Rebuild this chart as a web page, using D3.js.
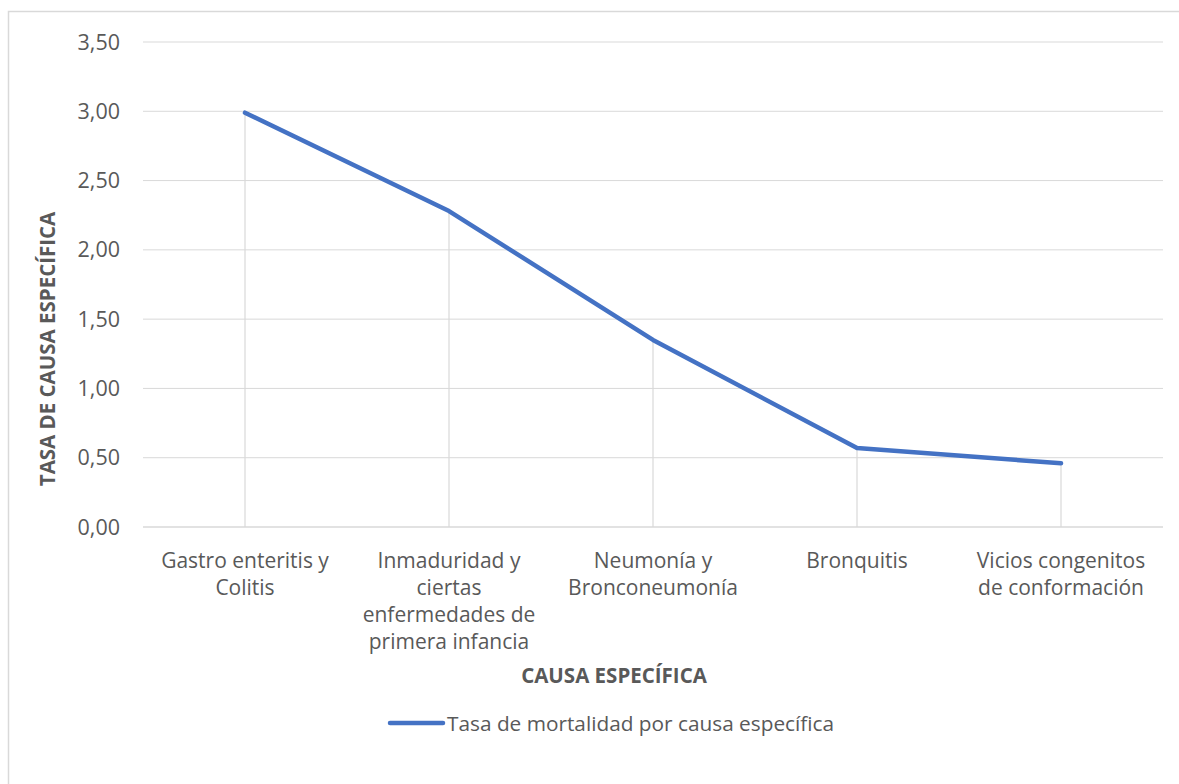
<!DOCTYPE html>
<html>
<head>
<meta charset="utf-8">
<script src="https://cdn.jsdelivr.net/npm/d3@7"></script>
<style>
  body { margin: 0; background: #fff; }
  svg text { font-family: "Open Sans", "Noto Sans", sans-serif; fill: #595959; }
</style>
</head>
<body>
<div id="chart"></div>
<script>
// Tasa de mortalidad por causa específica
const causas = [
    ["Gastro enteritis y", "Colitis"],
    ["Inmaduridad y", "ciertas", "enfermedades de", "primera infancia"],
    ["Neumonía y", "Bronconeumonía"],
    ["Bronquitis"],
    ["Vicios congenitos", "de conformación"]
];
const tasas = [2.99, 2.28, 1.35, 0.57, 0.46];
const yTicks = [0, 0.5, 1, 1.5, 2, 2.5, 3, 3.5];
const serieNombre = "Tasa de mortalidad por causa específica";

const W = 1179, H = 784;
const margin = {top: 42, right: 16, bottom: 257, left: 143};
const width = W - margin.left - margin.right;
const height = H - margin.top - margin.bottom;

const svg = d3.select("#chart").append("svg")
    .attr("width", W)
    .attr("height", H);

// chart area border (runs off the right and bottom of the picture)
svg.append("rect")
    .attr("x", 8.5).attr("y", 11.5)
    .attr("width", 1300).attr("height", 900)
    .attr("fill", "none")
    .attr("stroke", "#d9d9d9")
    .attr("stroke-width", 1.5);

const g = svg.append("g").attr("transform", `translate(${margin.left},${margin.top})`);

const x = d3.scaleBand()
    .domain(d3.range(causas.length))
    .range([0, width]);

const y = d3.scaleLinear()
    .domain([0, 3.5])
    .range([height, 0]);

const fmt = d => d.toFixed(2).replace(".", ",");

// gridlines
g.selectAll(".grid")
    .data(yTicks)
    .enter().append("line")
    .attr("x1", 0).attr("x2", width)
    .attr("y1", d => y(d)).attr("y2", d => y(d))
    .attr("stroke", "#d9d9d9")
    .attr("stroke-width", d => d === 0 ? 1.5 : 1);

// y labels
g.selectAll(".ylab")
    .data(yTicks)
    .enter().append("text")
    .attr("x", -23)
    .attr("y", d => y(d))
    .attr("dy", "0.35em")
    .attr("text-anchor", "end")
    .style("font-size", "21.5px")
    .text(fmt);

// drop lines
g.selectAll(".drop")
    .data(tasas)
    .enter().append("line")
    .attr("x1", (d, i) => x(i) + x.bandwidth() / 2)
    .attr("x2", (d, i) => x(i) + x.bandwidth() / 2)
    .attr("y1", d => y(d)).attr("y2", height)
    .attr("stroke", "#d9d9d9")
    .attr("stroke-width", 1.2);

// line
const line = d3.line()
    .x((d, i) => x(i) + x.bandwidth() / 2)
    .y(d => y(d));

g.append("path")
    .datum(tasas)
    .attr("d", line)
    .attr("fill", "none")
    .attr("stroke", "#4472c4")
    .attr("stroke-width", 4.5)
    .attr("stroke-linecap", "round")
    .attr("stroke-linejoin", "round");

// category labels, one text per line
const cat = g.selectAll(".cat")
    .data(causas)
    .enter().append("g")
    .attr("transform", (d, i) => `translate(${x(i) + x.bandwidth() / 2},${height + 41})`);

cat.selectAll("text")
    .data(d => d)
    .enter().append("text")
    .attr("text-anchor", "middle")
    .attr("y", (d, i) => i * 27)
    .style("font-size", "21px")
    .text(d => d);

// axis titles
svg.append("text")
    .attr("x", 614)
    .attr("y", 683)
    .attr("text-anchor", "middle")
    .style("font-size", "20.5px")
    .style("font-weight", "bold")
    .text("CAUSA ESPECÍFICA");

svg.append("text")
    .attr("transform", "translate(55,349) rotate(-90)")
    .attr("text-anchor", "middle")
    .style("font-size", "20.5px")
    .style("font-weight", "bold")
    .text("TASA DE CAUSA ESPECÍFICA");

// legend
svg.append("line")
    .attr("x1", 390).attr("x2", 443)
    .attr("y1", 723).attr("y2", 723)
    .attr("stroke", "#4472c4")
    .attr("stroke-width", 4.5)
    .attr("stroke-linecap", "round");

svg.append("text")
    .attr("x", 447)
    .attr("y", 731)
    .style("font-size", "20.8px")
    .text(serieNombre);
</script>
</body>
</html>
